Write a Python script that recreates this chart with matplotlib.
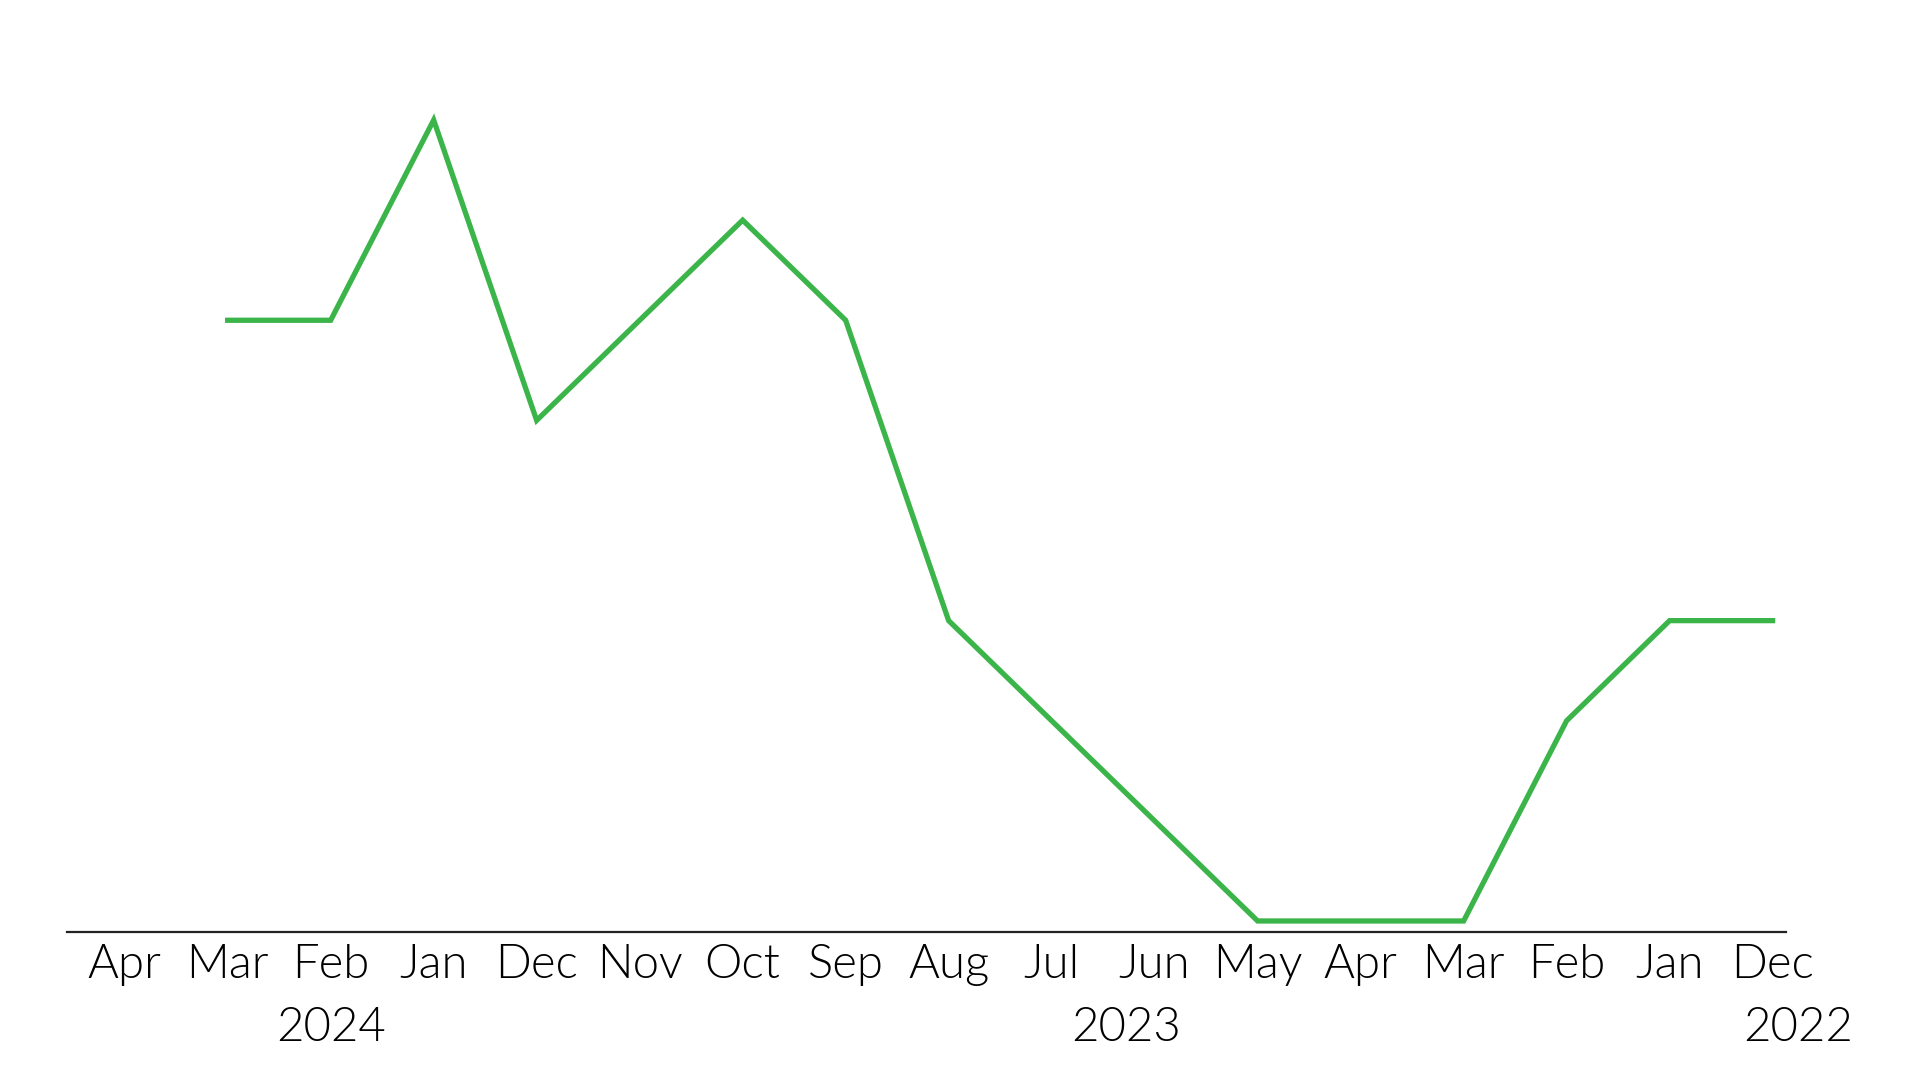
import matplotlib
matplotlib.use("Agg")
import matplotlib.pyplot as plt
from matplotlib.transforms import blended_transform_factory

months = ["Apr", "Mar", "Feb", "Jan", "Dec", "Nov", "Oct", "Sep", "Aug",
          "Jul", "Jun", "May", "Apr", "Mar", "Feb", "Jan", "Dec"]
years = ["2024", "2023", "2022"]
year_pos = [2, 9.72, 16.25]
# series from Mar 2024 (index 1) to Dec 2022 (index 16)
values = [6, 6, 8, 5, 6, 7, 6, 3, 2, 1, 0, 0, 0, 2, 3, 3]
xs = list(range(1, 1 + len(values)))

plt.rcParams['font.family'] = ['Lato', 'DejaVu Sans']
fig = plt.figure(figsize=(19.2, 10.8), dpi=100)
ax = fig.add_axes([67/1920, 1 - 932/1080, (1786-67)/1920, (932-90)/1080])
ax.plot(xs, values, color="#3bb54a", lw=3.8, solid_joinstyle="miter")
ax.set_xlim(-0.56, 16.13)
ax.set_ylim(-0.11, 8.3)
for s in ["top", "right", "left"]:
    ax.spines[s].set_visible(False)
ax.spines["bottom"].set_color("#222222")
ax.spines["bottom"].set_linewidth(1.6)
ax.set_yticks([])
ax.set_xticks(range(len(months)))
ax.set_xticklabels(months, fontsize=34, fontweight=300, color="black")
ax.tick_params(axis="x", length=0, pad=9)
tr = blended_transform_factory(ax.transData, fig.transFigure)
for y, p in zip(years, year_pos):
    ax.text(p, 1 - 1028/1080, y, transform=tr, ha="center", va="center",
            fontsize=34, fontweight=300, color="black")
fig.savefig("out.png", dpi=100)
